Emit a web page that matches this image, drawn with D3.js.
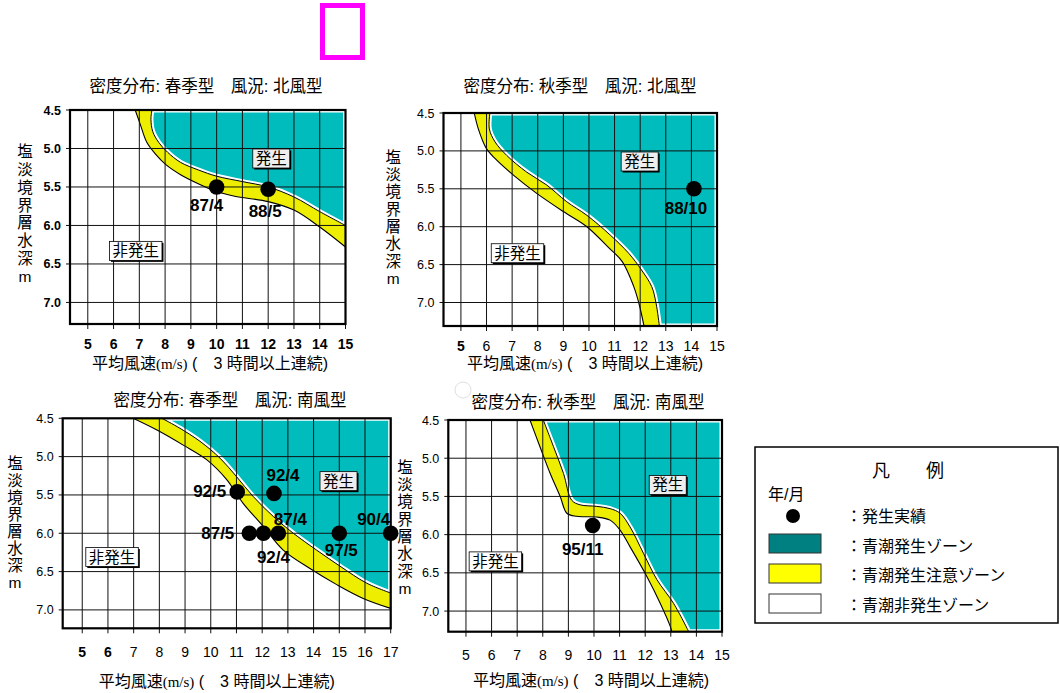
<!DOCTYPE html>
<html>
<head>
<meta charset="utf-8">
<script src="https://cdn.jsdelivr.net/npm/d3@7"></script>
<style>
body { margin: 0; background: #fff; }
svg { display: block; }
text { font-family: "Liberation Sans", Arial, "Noto Sans CJK JP", sans-serif; }
</style>
</head>
<body>
<div id="main"></div>
<script>
// Datos del gráfico
var titulos = [
	"密度分布: 春季型　風況: 北風型",
	"密度分布: 秋季型　風況: 北風型",
	"密度分布: 春季型　風況: 南風型",
	"密度分布: 秋季型　風況: 南風型"
];
var ticksX15 = [5, 6, 7, 8, 9, 10, 11, 12, 13, 14, 15];
var ticksX17 = [5, 6, 7, 8, 9, 10, 11, 12, 13, 14, 15, 16, 17];
var ticksY = [4.5, 5.0, 5.5, 6.0, 6.5, 7.0];
var etiquetasY = ["4.5", "5.0", "5.5", "6.0", "6.5", "7.0"];
var tituloY = ["塩", "淡", "境", "界", "層", "水", "深", "m"];
var zonaGenera = "発生";
var zonaNoGenera = "非発生";

// Curvas límite [viento m/s, profundidad m]: borde verde (superior) y borde blanco (inferior)
var p1Superior = [[7.49, 4.5], [7.45, 4.62], [7.52, 4.78], [7.75, 4.92], [8.1, 5.05], [8.6, 5.18], [9.3, 5.28], [10.0, 5.36], [11.0, 5.43], [12.0, 5.5], [13.0, 5.63], [14.0, 5.82], [15.0, 6.0]];
var p1Inferior = [[6.84, 4.5], [7.03, 4.68], [7.29, 4.92], [7.62, 5.07], [8.03, 5.21], [8.6, 5.34], [9.37, 5.47], [10.0, 5.56], [10.7, 5.62], [12.0, 5.69], [13.0, 5.8], [14.0, 6.02], [15.0, 6.28]];
var p2Superior = [[6.13, 4.5], [6.11, 4.71], [6.33, 4.88], [6.79, 5.06], [7.57, 5.28], [8.35, 5.45], [9.13, 5.67], [9.92, 5.85], [10.83, 6.11], [11.55, 6.35], [12.05, 6.57], [12.45, 6.79], [12.62, 7.01], [12.75, 7.31]];
var p2Inferior = [[5.52, 4.5], [5.68, 4.71], [5.98, 4.96], [6.33, 5.1], [7.05, 5.32], [7.96, 5.56], [9.0, 5.8], [9.92, 6.0], [10.75, 6.27], [11.3, 6.46], [11.75, 6.79], [11.95, 7.01], [12.15, 7.31]];
var p3Superior = [[8.1, 4.5], [8.8, 4.63], [9.58, 4.8], [10.36, 5.02], [11.0, 5.26], [11.65, 5.52], [12.43, 5.78], [13.21, 6.0], [14.12, 6.22], [15.03, 6.43], [16.06, 6.65], [17.0, 6.78]];
var p3Inferior = [[6.98, 4.5], [7.89, 4.65], [8.93, 4.85], [9.84, 5.04], [10.62, 5.3], [11.26, 5.61], [12.04, 5.91], [12.82, 6.22], [13.86, 6.46], [14.9, 6.67], [15.93, 6.85], [17.0, 6.98]];
var p4Superior = [[8.02, 4.5], [8.42, 4.85], [8.81, 5.2], [9.13, 5.55], [9.46, 5.61], [10.11, 5.63], [10.63, 5.66], [11.02, 5.72], [11.41, 5.9], [11.94, 6.25], [12.46, 6.59], [13.11, 6.9], [13.7, 7.27]];
var p4Inferior = [[7.5, 4.5], [7.89, 4.85], [8.29, 5.2], [8.68, 5.5], [8.94, 5.72], [9.33, 5.76], [10.11, 5.77], [10.63, 5.81], [11.02, 5.94], [11.41, 6.16], [12.07, 6.55], [12.59, 6.9], [12.98, 7.2], [13.04, 7.27]];

// Casos observados (año/mes)
var p1Casos = [{ viento: 10.0, prof: 5.5, nombre: "87/4" }, { viento: 12.0, prof: 5.53, nombre: "88/5" }];
var p2Casos = [{ viento: 14.1, prof: 5.5, nombre: "88/10" }];
var p3Casos = [
	{ viento: 11.03, prof: 5.46, nombre: "92/5" },
	{ viento: 12.46, prof: 5.48, nombre: "92/4" },
	{ viento: 11.5, prof: 6.0, nombre: "87/5" },
	{ viento: 12.05, prof: 6.0, nombre: "92/4" },
	{ viento: 12.63, prof: 6.0, nombre: "87/4" },
	{ viento: 15.0, prof: 6.0, nombre: "97/5" },
	{ viento: 17.0, prof: 6.0, nombre: "90/4" }
];
var p4Casos = [{ viento: 9.95, prof: 5.88, nombre: "95/11" }];

var leyendaTitulo = "凡　　例";
var leyendaFecha = "年/月";
var leyendaTextos = ["：発生実績", "：青潮発生ゾーン", "：青潮発生注意ゾーン", "：青潮非発生ゾーン"];

// Colores
var colorVerde = "#00bcbc";
var colorAmarillo = "#eeee00";

// Disposición de cada panel
var paneles = [
	{ id: 1, titulo: titulos[0], left: 70, right: 345.5, top: 110, bottom: 324, xMin: 4.31, xMax: 15, yMax: 7.28,
	  ticks: ticksX15, negrita: ticksX15, negritaY: true, sup: p1Superior, inf: p1Inferior, casos: p1Casos,
	  desp: [[-10, 18], [-3, 22]], ancla: ["middle", "middle"],
	  tx: 206, ty: 91.5, yTx: 25, yTy: 151.7, yPaso: 17.8, xLab: 349, xTitX: 210, xTitY: 368.5,
	  gen: [12.12, 5.13], noGen: [6.86, 6.33] },
	{ id: 2, titulo: titulos[1], left: 443.5, right: 717, top: 113, bottom: 326, xMin: 4.32, xMax: 15, yMax: 7.31,
	  ticks: ticksX15, negrita: [5], negritaY: false, sup: p2Superior, inf: p2Inferior, casos: p2Casos,
	  desp: [[-8, 19]], ancla: ["middle"],
	  tx: 580, ty: 91.5, yTx: 393.3, yTy: 157.3, yPaso: 17.3, xLab: 351, xTitX: 585, xTitY: 368.5,
	  gen: [11.98, 5.14], noGen: [7.21, 6.35] },
	{ id: 3, titulo: titulos[2], left: 62.7, right: 390.7, top: 418.3, bottom: 628.3, xMin: 4.24, xMax: 17, yMax: 7.24,
	  ticks: ticksX17, negrita: [5, 6], negritaY: false, sup: p3Superior, inf: p3Inferior, casos: p3Casos,
	  desp: [[-4, -1], [9, -18], [-8, 0], [10, 24], [12, -14], [2, 17], [-17, -14]],
	  ancla: ["end", "middle", "end", "middle", "middle", "middle", "middle"],
	  tx: 230, ty: 405.5, yTx: 15, yTy: 463, yPaso: 17, xLab: 657, xTitX: 216.7, xTitY: 687,
	  gen: [14.97, 5.32], noGen: [6.16, 6.31] },
	{ id: 4, titulo: titulos[3], left: 448.3, right: 722, top: 420, bottom: 631.7, xMin: 4.31, xMax: 15, yMax: 7.27,
	  ticks: ticksX15, negrita: [], negritaY: false, sup: p4Superior, inf: p4Inferior, casos: p4Casos,
	  desp: [[-10, 24]], ancla: ["middle"],
	  tx: 588, ty: 407.5, yTx: 405, yTy: 467.3, yPaso: 17.3, xLab: 660, xTitX: 591, xTitY: 686,
	  gen: [12.88, 5.35], noGen: [6.15, 6.35] }
];

var svgContainer = d3.select("#main").append("svg")
	.attr("width", 1060)
	.attr("height", 693)
	.attr("style", "background-color: #fff;");

/**
* Dibuja un panel completo: zonas, rejilla, ejes, casos y textos
**/
function dibujarPanel(svg, p) {
	var x = d3.scaleLinear().domain([p.xMin, p.xMax]).range([p.left, p.right]);
	var y = d3.scaleLinear().domain([4.5, p.yMax]).range([p.top, p.bottom]);
	var linea = d3.line()
		.x(function(d) { return x(d[0]); })
		.y(function(d) { return y(d[1]); })
		.curve(d3.curveCatmullRom.alpha(0.5));

	var defs = svg.append("defs");
	defs.append("clipPath").attr("id", "area" + p.id)
		.append("rect")
		.attr("x", p.left).attr("y", p.top)
		.attr("width", p.right - p.left).attr("height", p.bottom - p.top);

	var ultimo = p.sup[p.sup.length - 1];
	var pathVerde = linea(p.sup) +
		"L" + x(p.xMax) + "," + y(ultimo[1]) +
		"L" + x(p.xMax) + "," + y(4.5) + "Z";
	var invertida = p.inf.slice().reverse();
	var pathAmarillo = linea(p.sup) + "L" + linea(invertida).substring(1) + "Z";

	defs.append("clipPath").attr("id", "verde" + p.id)
		.append("path").attr("d", pathVerde);

	var g = svg.append("g").attr("clip-path", "url(#area" + p.id + ")");

	// Zona amarilla (atención)
	g.append("path").attr("d", pathAmarillo)
		.attr("fill", colorAmarillo)
		.attr("stroke", "none");

	// Zona verde con borde blanco interior
	g.append("path").attr("d", pathVerde)
		.attr("fill", colorVerde)
		.attr("stroke", "#fff")
		.attr("stroke-width", 5)
		.attr("clip-path", "url(#verde" + p.id + ")");

	// Bordes negros de la franja
	g.append("path").attr("d", linea(p.sup))
		.attr("fill", "none").attr("stroke", "#000").attr("stroke-width", 1);
	g.append("path").attr("d", linea(p.inf))
		.attr("fill", "none").attr("stroke", "#000").attr("stroke-width", 1.1);

	// Rejilla
	svg.append("g").selectAll("line").data(p.ticks).enter().append("line")
		.attr("x1", function(d) { return x(d); })
		.attr("x2", function(d) { return x(d); })
		.attr("y1", p.top)
		.attr("y2", p.bottom + 5)
		.attr("stroke", "#111")
		.attr("stroke-width", 1);
	svg.append("g").selectAll("line").data(ticksY).enter().append("line")
		.attr("x1", p.left - 4)
		.attr("x2", function(d) { return d === 4.5 ? p.left : p.right; })
		.attr("y1", function(d) { return y(d); })
		.attr("y2", function(d) { return y(d); })
		.attr("stroke", "#111")
		.attr("stroke-width", 1);

	// Marco
	svg.append("rect")
		.attr("x", p.left).attr("y", p.top)
		.attr("width", p.right - p.left).attr("height", p.bottom - p.top)
		.attr("fill", "none").attr("stroke", "#000").attr("stroke-width", 2.2);

	// Etiquetas de ejes
	svg.append("g").selectAll("text").data(p.ticks).enter().append("text")
		.attr("x", function(d) { return x(d); })
		.attr("y", p.xLab)
		.attr("text-anchor", "middle")
		.attr("font-size", 14)
		.attr("font-weight", function(d) { return p.negrita.indexOf(d) >= 0 ? "bold" : "normal"; })
		.text(function(d) { return d; });
	svg.append("g").selectAll("text").data(ticksY).enter().append("text")
		.attr("x", p.left - 9)
		.attr("y", function(d) { return y(d) + 4.5; })
		.attr("text-anchor", "end")
		.attr("font-size", 12.5)
		.attr("font-weight", p.negritaY ? "bold" : "normal")
		.text(function(d, i) { return etiquetasY[i]; });

	// Título del eje Y (vertical, un carácter por línea)
	svg.append("g").selectAll("text").data(tituloY).enter().append("text")
		.attr("x", p.yTx)
		.attr("y", function(d, i) { return p.yTy + i * p.yPaso + 5.5; })
		.attr("text-anchor", "middle")
		.attr("font-size", 15.5)
		.text(function(d) { return d; });

	// Título del eje X
	var tx = svg.append("text")
		.attr("x", p.xTitX).attr("y", p.xTitY)
		.attr("text-anchor", "middle")
		.attr("font-size", 16);
	tx.append("tspan").text("平均風速");
	tx.append("tspan").attr("font-family", "'Liberation Serif', serif").attr("font-size", 15).text("(m/s)");
	tx.append("tspan").text(" (　3 時間以上連続)");

	// Título del panel
	svg.append("text")
		.attr("x", p.tx).attr("y", p.ty)
		.attr("text-anchor", "middle")
		.attr("font-size", 16.5)
		.text(p.titulo);

	// Rótulos de zona
	dibujarRotulo(svg, x(p.gen[0]), y(p.gen[1]), zonaGenera, "#eeeeee");
	dibujarRotulo(svg, x(p.noGen[0]), y(p.noGen[1]), zonaNoGenera, "#ffffff");

	// Casos observados
	svg.append("g").selectAll("circle").data(p.casos).enter().append("circle")
		.attr("cx", function(d) { return x(d.viento); })
		.attr("cy", function(d) { return y(d.prof); })
		.attr("r", 7.8)
		.attr("fill", "#000");
	svg.append("g").selectAll("text").data(p.casos).enter().append("text")
		.attr("x", function(d, i) { return x(d.viento) + p.desp[i][0] - (p.ancla[i] === "end" ? 7 : 0); })
		.attr("y", function(d, i) { return y(d.prof) + p.desp[i][1] + 6; })
		.attr("text-anchor", function(d, i) { return p.ancla[i]; })
		.attr("font-size", 17)
		.attr("font-weight", "bold")
		.text(function(d) { return d.nombre; });
}

function dibujarRotulo(svg, cx, cy, texto, relleno) {
	var g = svg.append("g");
	var sombra = g.append("rect");
	var caja = g.append("rect");
	var t = g.append("text")
		.attr("x", cx).attr("y", cy + 5.5)
		.attr("text-anchor", "middle")
		.attr("font-size", 15.5)
		.text(texto);
	var b = t.node().getBBox();
	var w = b.width + 6;
	var h = 19;
	sombra.attr("x", cx - w / 2 + 1.5).attr("y", cy - h / 2 + 1.5)
		.attr("width", w).attr("height", h).attr("fill", "#000");
	caja.attr("x", cx - w / 2).attr("y", cy - h / 2)
		.attr("width", w).attr("height", h)
		.attr("fill", relleno).attr("stroke", "#000").attr("stroke-width", 0.8);
}

function dibujarLeyenda(svg) {
	var g = svg.append("g");
	g.append("rect").attr("x", 755).attr("y", 447).attr("width", 303).attr("height", 176)
		.attr("fill", "#fff").attr("stroke", "#000").attr("stroke-width", 1.5);
	g.append("text").attr("x", 908).attr("y", 477).attr("text-anchor", "middle")
		.attr("font-size", 18).text(leyendaTitulo);
	g.append("text").attr("x", 768).attr("y", 500).attr("font-size", 16).text(leyendaFecha);
	g.append("circle").attr("cx", 793).attr("cy", 516).attr("r", 7).attr("fill", "#000");
	var muestras = ["#008080", "#ffff00", "#ffffff"];
	g.selectAll("rect.muestra").data(muestras).enter().append("rect")
		.attr("class", "muestra")
		.attr("x", 769)
		.attr("y", function(d, i) { return 534 + i * 30; })
		.attr("width", 52).attr("height", 19)
		.attr("fill", function(d) { return d; })
		.attr("stroke", "#333").attr("stroke-width", 1);
	g.selectAll("text.item").data(leyendaTextos).enter().append("text")
		.attr("class", "item")
		.attr("x", 846)
		.attr("y", function(d, i) { return 522 + i * 29.5; })
		.attr("font-size", 16)
		.text(function(d) { return d; });
}

paneles.forEach(function(p) { dibujarPanel(svgContainer, p); });
dibujarLeyenda(svgContainer);

// Marco magenta y círculo tenue de la figura original
svgContainer.append("rect").attr("x", 322.5).attr("y", 5.5).attr("width", 40).attr("height", 52)
	.attr("fill", "none").attr("stroke", "#ff00ff").attr("stroke-width", 5);
svgContainer.append("circle").attr("cx", 463).attr("cy", 390).attr("r", 8)
	.attr("fill", "none").attr("stroke", "#e0e0e0").attr("stroke-width", 1);
</script>
</body>
</html>
